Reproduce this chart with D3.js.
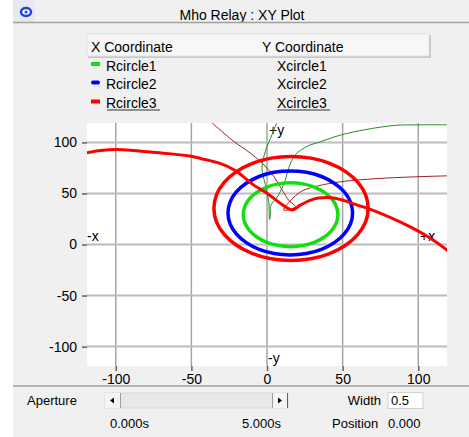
<!DOCTYPE html>
<html>
<head>
<meta charset="utf-8">
<script src="https://cdn.jsdelivr.net/npm/d3@7"></script>
<style>
  body { margin: 0; background: #ffffff; }
  text { font-family: "Liberation Sans", Arial, sans-serif; font-size: 14px; fill: #000; }
  text.ctl { font-size: 13px; }
</style>
</head>
<body>
<div id="chart"></div>
<script>
// axis ticks
const xTicks = [-100, -50, 0, 50, 100];
const yTicks = [-100, -50, 0, 50, 100];

// legend
const legendX = ["Rcircle1", "Rcircle2", "Rcircle3"];
const legendY = ["Xcircle1", "Xcircle2", "Xcircle3"];

// mho circles (R, X)
const rcircle1 = [46.9, 45.8, 42.7, 37.7, 31.3, 23.7, 15.6, 7.5, -0.1, -6.5, -11.5, -14.6, -15.7, -14.6, -11.5, -6.5, -0.1, 7.5, 15.6, 23.7, 31.3, 37.7, 42.7, 45.8];
const xcircle1 = [29.2, 37.3, 44.9, 51.3, 56.3, 59.4, 60.5, 59.4, 56.3, 51.3, 44.9, 37.3, 29.2, 21.1, 13.6, 7.1, 2.1, -1.0, -2.1, -1.0, 2.1, 7.1, 13.6, 21.1];
const rcircle2 = [56.6, 55.2, 51.1, 44.5, 36.0, 26.1, 15.4, 4.7, -5.2, -13.7, -20.3, -24.4, -25.8, -24.4, -20.3, -13.7, -5.2, 4.7, 15.4, 26.1, 36.0, 44.5, 51.1, 55.2];
const xcircle2 = [30.9, 41.6, 51.5, 60.0, 66.6, 70.7, 72.1, 70.7, 66.6, 60.0, 51.5, 41.6, 30.9, 20.2, 10.3, 1.8, -4.8, -8.9, -10.3, -8.9, -4.8, 1.8, 10.3, 20.2];
const rcircle3 = [66.9, 65.2, 60.1, 52.0, 41.4, 29.1, 15.9, 2.7, -9.6, -20.2, -28.3, -33.4, -35.1, -33.4, -28.3, -20.2, -9.6, 2.7, 15.9, 29.1, 41.4, 52.0, 60.1, 65.2];
const xcircle3 = [35.3, 48.5, 60.8, 71.4, 79.5, 84.6, 86.3, 84.6, 79.5, 71.4, 60.8, 48.5, 35.3, 22.1, 9.8, -0.8, -8.9, -14.0, -15.7, -14.0, -8.9, -0.8, 9.8, 22.1];

// impedance trajectory (thick red)
const rTraj = [-120, -110, -99, -88, -79.5, -65, -51, -44, -31, -21, -9, 0, 8.8, 16.6, 22, 28, 34, 45, 56, 69.3, 82.5, 95, 107, 120];
const xTraj = [89.5, 92, 93, 92, 90.8, 89, 86.6, 84.3, 79.4, 72.5, 58.4, 50.3, 40.5, 33.9, 38.5, 43, 45.5, 45.4, 40.5, 33.9, 25.8, 17, 7, -6.5];

// thin dark red trace
const rTrace1 = [-37, -30, -22, -11, -2, 4.5, 10, 14.5, 18.7, 11, 14.3, 19, 24, 34, 48.5, 78, 120];
const xTrace1 = [120, 111, 101, 89.5, 78, 66.7, 53.5, 43, 37, 33.6, 41, 48, 53, 57.5, 61.4, 65, 67.3];

// thin green trace
const rTrace2 = [6.6, 3.3, -1.1, -3.3, -1.1, 1.1, 1.7, 2.4, 2.2, 7.7, 12.1, 14.3, 18.7, 26.5, 35, 49.4, 65, 84.8, 100, 120];
const xTrace2 = [120, 107.5, 91.2, 74.8, 58.4, 42.2, 24.5, 31, 37.2, 48.6, 63.3, 74.8, 87.8, 96.1, 100.5, 107.5, 112.5, 116.7, 117.2, 117.3];

const W = 469, H = 437;
const plot = {left: 87, right: 447, top: 123, bottom: 366};

const svg = d3.select("#chart").append("svg")
    .attr("width", W)
    .attr("height", H);

// window panel
svg.append("rect").attr("x", 13).attr("y", 0).attr("width", W - 13).attr("height", H).attr("fill", "#f0f0f0");

// title bar
svg.append("rect").attr("x", 13).attr("y", 0).attr("width", 22).attr("height", 22).attr("fill", "#e8e8f0");
svg.append("ellipse").attr("cx", 26).attr("cy", 12).attr("rx", 5).attr("ry", 4)
    .attr("fill", "#ffffff").attr("stroke", "#2040e0").attr("stroke-width", 2.5);
svg.append("circle").attr("cx", 26).attr("cy", 12).attr("r", 1.5).attr("fill", "#2040e0");
svg.append("text").attr("x", 242).attr("y", 19.5).attr("text-anchor", "middle").text("Mho Relay : XY Plot");
svg.append("line").attr("x1", 13).attr("x2", W).attr("y1", 22.5).attr("y2", 22.5)
    .attr("stroke", "#a0a0a0").attr("stroke-width", 1.5);

// legend header
svg.append("rect").attr("x", 88).attr("y", 35).attr("width", 343).attr("height", 23).attr("fill", "#c8c8c8");
svg.append("rect").attr("x", 87).attr("y", 34).attr("width", 342).attr("height", 22)
    .attr("fill", "#f7f7f7").attr("stroke", "#e0e0e0").attr("stroke-width", 1);
svg.append("text").attr("x", 91).attr("y", 51.5).text("X Coordinate");
svg.append("text").attr("x", 262).attr("y", 51.5).text("Y Coordinate");

const seriesColors = ["#10e010", "#0000ff", "#ff0000"];
const rowY = [70.5, 89, 108];
legendX.forEach(function(name, i) {
    svg.append("rect").attr("x", 91).attr("y", rowY[i] - 8.5).attr("width", 9).attr("height", 4)
        .attr("rx", i === 1 ? 2 : 0)
        .attr("fill", seriesColors[i]);
    svg.append("text").attr("x", 106).attr("y", rowY[i]).text(name);
    svg.append("text").attr("x", 277).attr("y", rowY[i]).text(legendY[i]);
});
// the last row is underlined (selected)
svg.append("line").attr("x1", 107).attr("x2", 160).attr("y1", 110).attr("y2", 110).attr("stroke", "#707070").attr("stroke-width", 1.5);
svg.append("line").attr("x1", 277).attr("x2", 330).attr("y1", 110).attr("y2", 110).attr("stroke", "#707070").attr("stroke-width", 1.5);

// scales
const x = d3.scaleLinear().domain([-119, 119]).range([plot.left, plot.right]);
const y = d3.scaleLinear().domain([-119, 119]).range([plot.bottom, plot.top]);

svg.append("rect").attr("x", plot.left).attr("y", plot.top)
    .attr("width", plot.right - plot.left).attr("height", plot.bottom - plot.top)
    .attr("fill", "#ffffff");

svg.append("clipPath").attr("id", "clip").append("rect")
    .attr("x", plot.left).attr("y", plot.top)
    .attr("width", plot.right - plot.left).attr("height", plot.bottom - plot.top);

// grid
const grid = svg.append("g");
grid.selectAll(".vg").data(xTicks).enter().append("line")
    .attr("x1", d => x(d)).attr("x2", d => x(d))
    .attr("y1", plot.top).attr("y2", plot.bottom)
    .attr("stroke", "#a4a4a4").attr("stroke-width", 1.5);
grid.selectAll(".hg").data(yTicks).enter().append("line")
    .attr("x1", plot.left).attr("x2", plot.right)
    .attr("y1", d => y(d)).attr("y2", d => y(d))
    .attr("stroke", "#bcbcbc").attr("stroke-width", 2);

// axes (plain hyphen for negatives, like the original)
const leftAxis = d3.axisLeft(y).tickValues(yTicks).tickFormat(d => String(d)).tickSize(5).tickPadding(5).tickSizeOuter(0);
const bottomAxis = d3.axisBottom(x).tickValues(xTicks).tickFormat(d => String(d)).tickSize(5).tickPadding(3).tickSizeOuter(0);

const gy = svg.append("g").attr("transform", `translate(${plot.left},0)`).call(leftAxis);
const gx = svg.append("g").attr("transform", `translate(0,${plot.bottom})`).call(bottomAxis);
[gx, gy].forEach(function(g) {
    g.select(".domain").remove();
    g.selectAll(".tick line").attr("stroke", "#606060").attr("stroke-width", 1.5);
    g.selectAll(".tick text").style("font-family", "'Liberation Sans', Arial, sans-serif").style("font-size", "14px").attr("fill", "#000");
});

// axis direction labels
svg.append("text").attr("x", 269).attr("y", 135).text("+y");
svg.append("text").attr("x", 268).attr("y", 363).text("-y");
svg.append("text").attr("x", 87).attr("y", 241).text("-x");
svg.append("text").attr("x", 420).attr("y", 241).text("+x");

// curves
const curves = svg.append("g").attr("clip-path", "url(#clip)");
const openLine = d3.line().x(d => x(d[0])).y(d => y(d[1])).curve(d3.curveCatmullRom.alpha(0.5));
const closedLine = d3.line().x(d => x(d[0])).y(d => y(d[1])).curve(d3.curveCatmullRomClosed.alpha(0.5));

curves.append("path").datum(d3.zip(rTrace1, xTrace1)).attr("d", openLine)
    .attr("fill", "none").attr("stroke", "#a02020").attr("stroke-width", 1);
curves.append("path").datum(d3.zip(rTrace2, xTrace2)).attr("d", openLine)
    .attr("fill", "none").attr("stroke", "#209020").attr("stroke-width", 1);

const circles = [[rcircle3, xcircle3], [rcircle2, xcircle2], [rcircle1, xcircle1]];
const circleColors = ["#ff0000", "#0000ff", "#10e010"];
circles.forEach(function(c, i) {
    curves.append("path").datum(d3.zip(c[0], c[1])).attr("d", closedLine)
        .attr("fill", "none").attr("stroke", circleColors[i]).attr("stroke-width", 3.5);
});

curves.append("path").datum(d3.zip(rTraj, xTraj)).attr("d", openLine)
    .attr("fill", "none").attr("stroke", "#ff0000").attr("stroke-width", 3);

// bottom separator
svg.append("line").attr("x1", 13).attr("x2", W).attr("y1", 386).attr("y2", 386)
    .attr("stroke", "#a0a0a0").attr("stroke-width", 1.5);

// aperture controls
svg.append("text").attr("class", "ctl").attr("x", 27).attr("y", 405).text("Aperture");
svg.append("rect").attr("x", 105).attr("y", 393).attr("width", 183).attr("height", 15)
    .attr("fill", "#e8e8e8").attr("stroke", "#d8d8d8");
svg.append("rect").attr("x", 105).attr("y", 393).attr("width", 15).attr("height", 15).attr("fill", "#f4f4f4");
svg.append("rect").attr("x", 272).attr("y", 393).attr("width", 15).attr("height", 15).attr("fill", "#f4f4f4");
svg.append("line").attr("x1", 120.5).attr("x2", 120.5).attr("y1", 393).attr("y2", 408).attr("stroke", "#a0a0a0");
svg.append("line").attr("x1", 272.5).attr("x2", 272.5).attr("y1", 393).attr("y2", 408).attr("stroke", "#a0a0a0");
svg.append("line").attr("x1", 287.5).attr("x2", 287.5).attr("y1", 393).attr("y2", 408).attr("stroke", "#606060");
svg.append("path").attr("d", "M110,400.5 L114,397.5 L114,403.5 Z").attr("fill", "#000");
svg.append("path").attr("d", "M282,400.5 L278,397.5 L278,403.5 Z").attr("fill", "#000");

svg.append("text").attr("class", "ctl").attr("x", 381).attr("y", 405).attr("text-anchor", "end").text("Width");
svg.append("rect").attr("x", 388).attr("y", 392.5).attr("width", 35).attr("height", 16)
    .attr("fill", "#ffffff").attr("stroke", "#d0d0d0");
svg.append("text").attr("class", "ctl").attr("x", 391).attr("y", 405).text("0.5");

svg.append("text").attr("class", "ctl").attr("x", 110).attr("y", 428).text("0.000s");
svg.append("text").attr("class", "ctl").attr("x", 242).attr("y", 428).text("5.000s");
svg.append("text").attr("class", "ctl").attr("x", 332).attr("y", 428).text("Position");
svg.append("text").attr("class", "ctl").attr("x", 388).attr("y", 428).text("0.000");
</script>
</body>
</html>
